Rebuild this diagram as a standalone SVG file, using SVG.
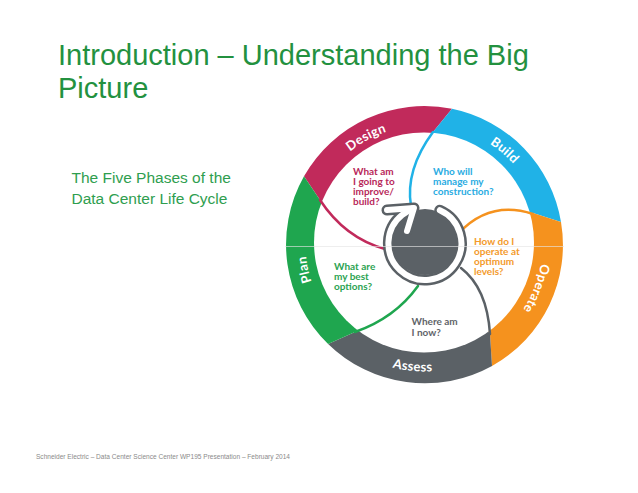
<svg xmlns="http://www.w3.org/2000/svg" width="638" height="493" viewBox="0 0 638 493">
<style>
.title{font-family:"Liberation Sans",Arial,sans-serif;font-size:29px;fill:#23913f}
.sub{font-family:"Liberation Sans",Arial,sans-serif;font-size:15.5px;fill:#2f9e4f}
.foot{font-family:"Liberation Sans",Arial,sans-serif;font-size:6.3px;fill:#8a8a8a}
.band{font-family:Lato,"Open Sans",sans-serif;font-weight:bold;font-size:13px;fill:#ffffff;letter-spacing:0.3px}
.q{font-family:Lato,"Open Sans",sans-serif;font-weight:bold;font-size:10px}
.curve{fill:none;stroke-width:2.5;stroke-linecap:round}
.arrOut{fill:none;stroke:#5b6166;stroke-width:11;stroke-linecap:round;stroke-linejoin:round}
.arrIn{fill:none;stroke:#ffffff;stroke-width:6;stroke-linecap:round;stroke-linejoin:round}
</style>
<defs>
<path id="pDesign" d="M313.7,201.1 A119,119 0 0 1 448.0,127.8"/>
<path id="pBuild" d="M425.3,124.5 A120,120 0 0 1 542.8,224.5"/>
<path id="pOperate" d="M536.3,206.9 A118,118 0 0 1 481.0,348.1"/>
<path id="pAssess" d="M333.8,333.4 A127,127 0 0 0 496.3,349.3"/>
<path id="pPlan" d="M351.1,338.1 A119,119 0 0 1 319.5,188.5"/>
</defs>
<rect width="638" height="493" fill="#ffffff"/>
<g id="title">
<text class="title" x="58" y="65">Introduction – Understanding the Big</text>
<text class="title" x="58" y="98">Picture</text>
</g>
<g id="subtitle">
<text class="sub" x="71.5" y="183">The Five Phases of the</text>
<text class="sub" x="71.5" y="204">Data Center Life Cycle</text>
</g>
<g id="bands">
<path id="segDesign" d="M304,176.3 A138.5,138.5 0 0 1 452,108.8 L433,132 L424,242 L320,200 Z" fill="#c12a5b"/>
<path id="segBuild" d="M452,108.8 A138.5,138.5 0 0 1 561,222 L533,213 L424,242 L433,132 Z" fill="#20b2e7"/>
<path id="segOperate" d="M561,222 A138.5,138.5 0 0 1 492,366 L490,334 L424,242 L533,213 Z" fill="#f5921e"/>
<path id="segAssess" d="M492,366 A138.5,138.5 0 0 1 328.1,343.9 L355,332 L424,242 L490,334 Z" fill="#5b6166"/>
<path id="segPlan" d="M328.1,343.9 A138.5,138.5 0 0 1 304,176.3 L320,200 L424,242 L355,332 Z" fill="#1fa64f"/>
<circle cx="424" cy="242.5" r="110" fill="#ffffff"/>
</g>
<g id="connectors">
<path class="curve" stroke="#c12a5b" d="M320,200 Q345,238 385,249"/>
<path class="curve" stroke="#20b2e7" d="M433,132 Q405,170 411,206"/>
<path class="curve" stroke="#f5921e" d="M533,214 Q490,200 459,233"/>
<path class="curve" stroke="#5b6166" d="M461,268 Q487,288 490,334"/>
<path class="curve" stroke="#1fa64f" d="M418,286 Q395,318 355,332"/>
</g>
<g id="node-design">
<text class="band"><textPath href="#pDesign" startOffset="50%" text-anchor="middle">Design</textPath></text>
<text class="q" fill="#b8285a"><tspan x="353" y="174.5">What am</tspan><tspan x="353" y="184.8">I going to</tspan><tspan x="353" y="195.1">improve/</tspan><tspan x="353" y="205.4">build?</tspan></text>
</g>
<g id="node-build">
<text class="band"><textPath href="#pBuild" startOffset="50%" text-anchor="middle">Build</textPath></text>
<text class="q" fill="#2aace2"><tspan x="433" y="174.5">Who will</tspan><tspan x="433" y="184.8">manage my</tspan><tspan x="433" y="195.1">construction?</tspan></text>
</g>
<g id="node-operate">
<text class="band"><textPath href="#pOperate" startOffset="50%" text-anchor="middle">Operate</textPath></text>
<text class="q" fill="#f39a2b"><tspan x="474" y="244.5">How do I</tspan><tspan x="474" y="254.5">operate at</tspan><tspan x="474" y="264.5">optimum</tspan><tspan x="474" y="274.5">levels?</tspan></text>
</g>
<g id="node-assess">
<text class="band"><textPath href="#pAssess" startOffset="50%" text-anchor="middle">Assess</textPath></text>
<text class="q" fill="#5f6469"><tspan x="411.5" y="325">Where am</tspan><tspan x="411.5" y="335.5">I now?</tspan></text>
</g>
<g id="node-plan">
<text class="band"><textPath href="#pPlan" startOffset="50%" text-anchor="middle">Plan</textPath></text>
<text class="q" fill="#2ca352"><tspan x="334" y="269.5">What are</tspan><tspan x="334" y="279.8">my best</tspan><tspan x="334" y="290.1">options?</tspan></text>
</g>
<g id="node-center">
<circle cx="425" cy="242" r="33" fill="#5b6166"/>
<path class="arrOut" d="M439.8,210.2 A36.5,36.5 0 1 1 402.5,214.7 L412,208.5"/>
<path class="arrOut" d="M387,210 L414,208 L407,231"/>
<path class="arrIn" d="M439.8,210.2 A36.5,36.5 0 1 1 402.5,214.7 L412,208.5"/>
<path class="arrIn" d="M387,210 L414,208 L407,231"/>
</g>
<line x1="285" y1="246.5" x2="564" y2="246.5" stroke="#e6e6e6" stroke-width="0.8" opacity="0.8"/>
<g id="footer">
<text class="foot" x="36" y="459" textLength="254" lengthAdjust="spacingAndGlyphs">Schneider Electric – Data Center Science Center WP195 Presentation – February 2014</text>
</g>
</svg>
